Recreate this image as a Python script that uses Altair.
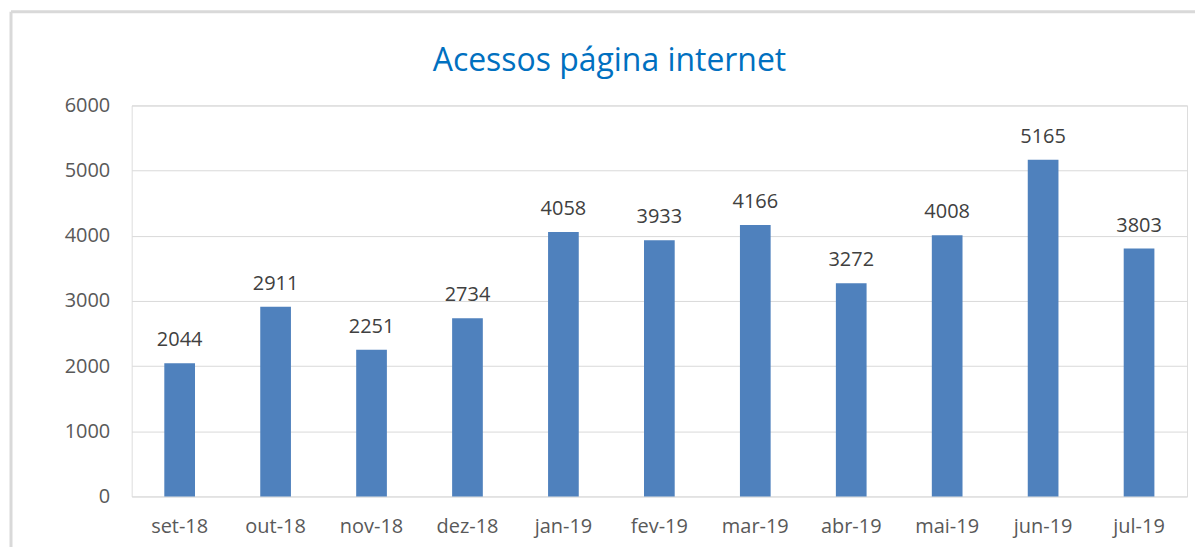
import altair as alt
import pandas as pd

months = ["set-18", "out-18", "nov-18", "dez-18", "jan-19", "fev-19",
          "mar-19", "abr-19", "mai-19", "jun-19", "jul-19"]
acessos = [2044, 2911, 2251, 2734, 4058, 3933, 4166, 3272, 4008, 5165, 3803]

df = pd.DataFrame({"mes": months, "acessos": acessos})

FONT = "Open Sans"
W, H = 1058, 392
PAD_L, PAD_T = 124, 97

x = alt.X("mes:N", sort=months, title=None,
          scale=alt.Scale(paddingInner=0.68, paddingOuter=0.34),
          axis=alt.Axis(labelAngle=0, labelFont=FONT, labelFontSize=20,
                        labelColor="#595959", labelPadding=20,
                        ticks=False, domain=False, grid=False))
y = alt.Y("acessos:Q", title=None,
          scale=alt.Scale(domain=[0, 6000], nice=False),
          axis=alt.Axis(values=[0, 1000, 2000, 3000, 4000, 5000, 6000],
                        format="d", labelFont=FONT, labelFontSize=20,
                        labelColor="#595959", labelPadding=22,
                        ticks=False, domain=False, grid=True,
                        gridColor="#D9D9D9", gridWidth=1))

base = alt.Chart(df)
bars = base.mark_bar(color="#4F81BD").encode(x=x, y=y)
labels = base.mark_text(font=FONT, fontSize=20, color="#404040",
                        baseline="alphabetic", dy=-17).encode(
    x=alt.X("mes:N", sort=months), y="acessos:Q", text="acessos:Q")

border = pd.DataFrame({"k": [0]})
left_border = alt.Chart(border).mark_rule(color="#D9D9D9", strokeWidth=3, clip=False).encode(
    x=alt.value(3 - PAD_L), y=alt.value(3 - PAD_T), y2=alt.value(H + 60))
top_border = alt.Chart(border).mark_rule(color="#D9D9D9", strokeWidth=3, clip=False).encode(
    x=alt.value(3 - PAD_L), x2=alt.value(W + 40), y=alt.value(3 - PAD_T))

chart = alt.layer(bars, labels, left_border, top_border).properties(
    width=W, height=H,
    autosize=alt.AutoSizeParams(type="none"),
    padding={"left": PAD_L, "top": PAD_T, "right": 8, "bottom": 50},
    title=alt.TitleParams("Acessos página internet", font=FONT, fontSize=32,
                          fontWeight="normal", color="#0070C0",
                          anchor="middle", dx=-50, dy=95, offset=27),
).configure_view(stroke=None).configure(background="white")

chart.save("out.html", embed_options={"renderer": "svg", "actions": False})
